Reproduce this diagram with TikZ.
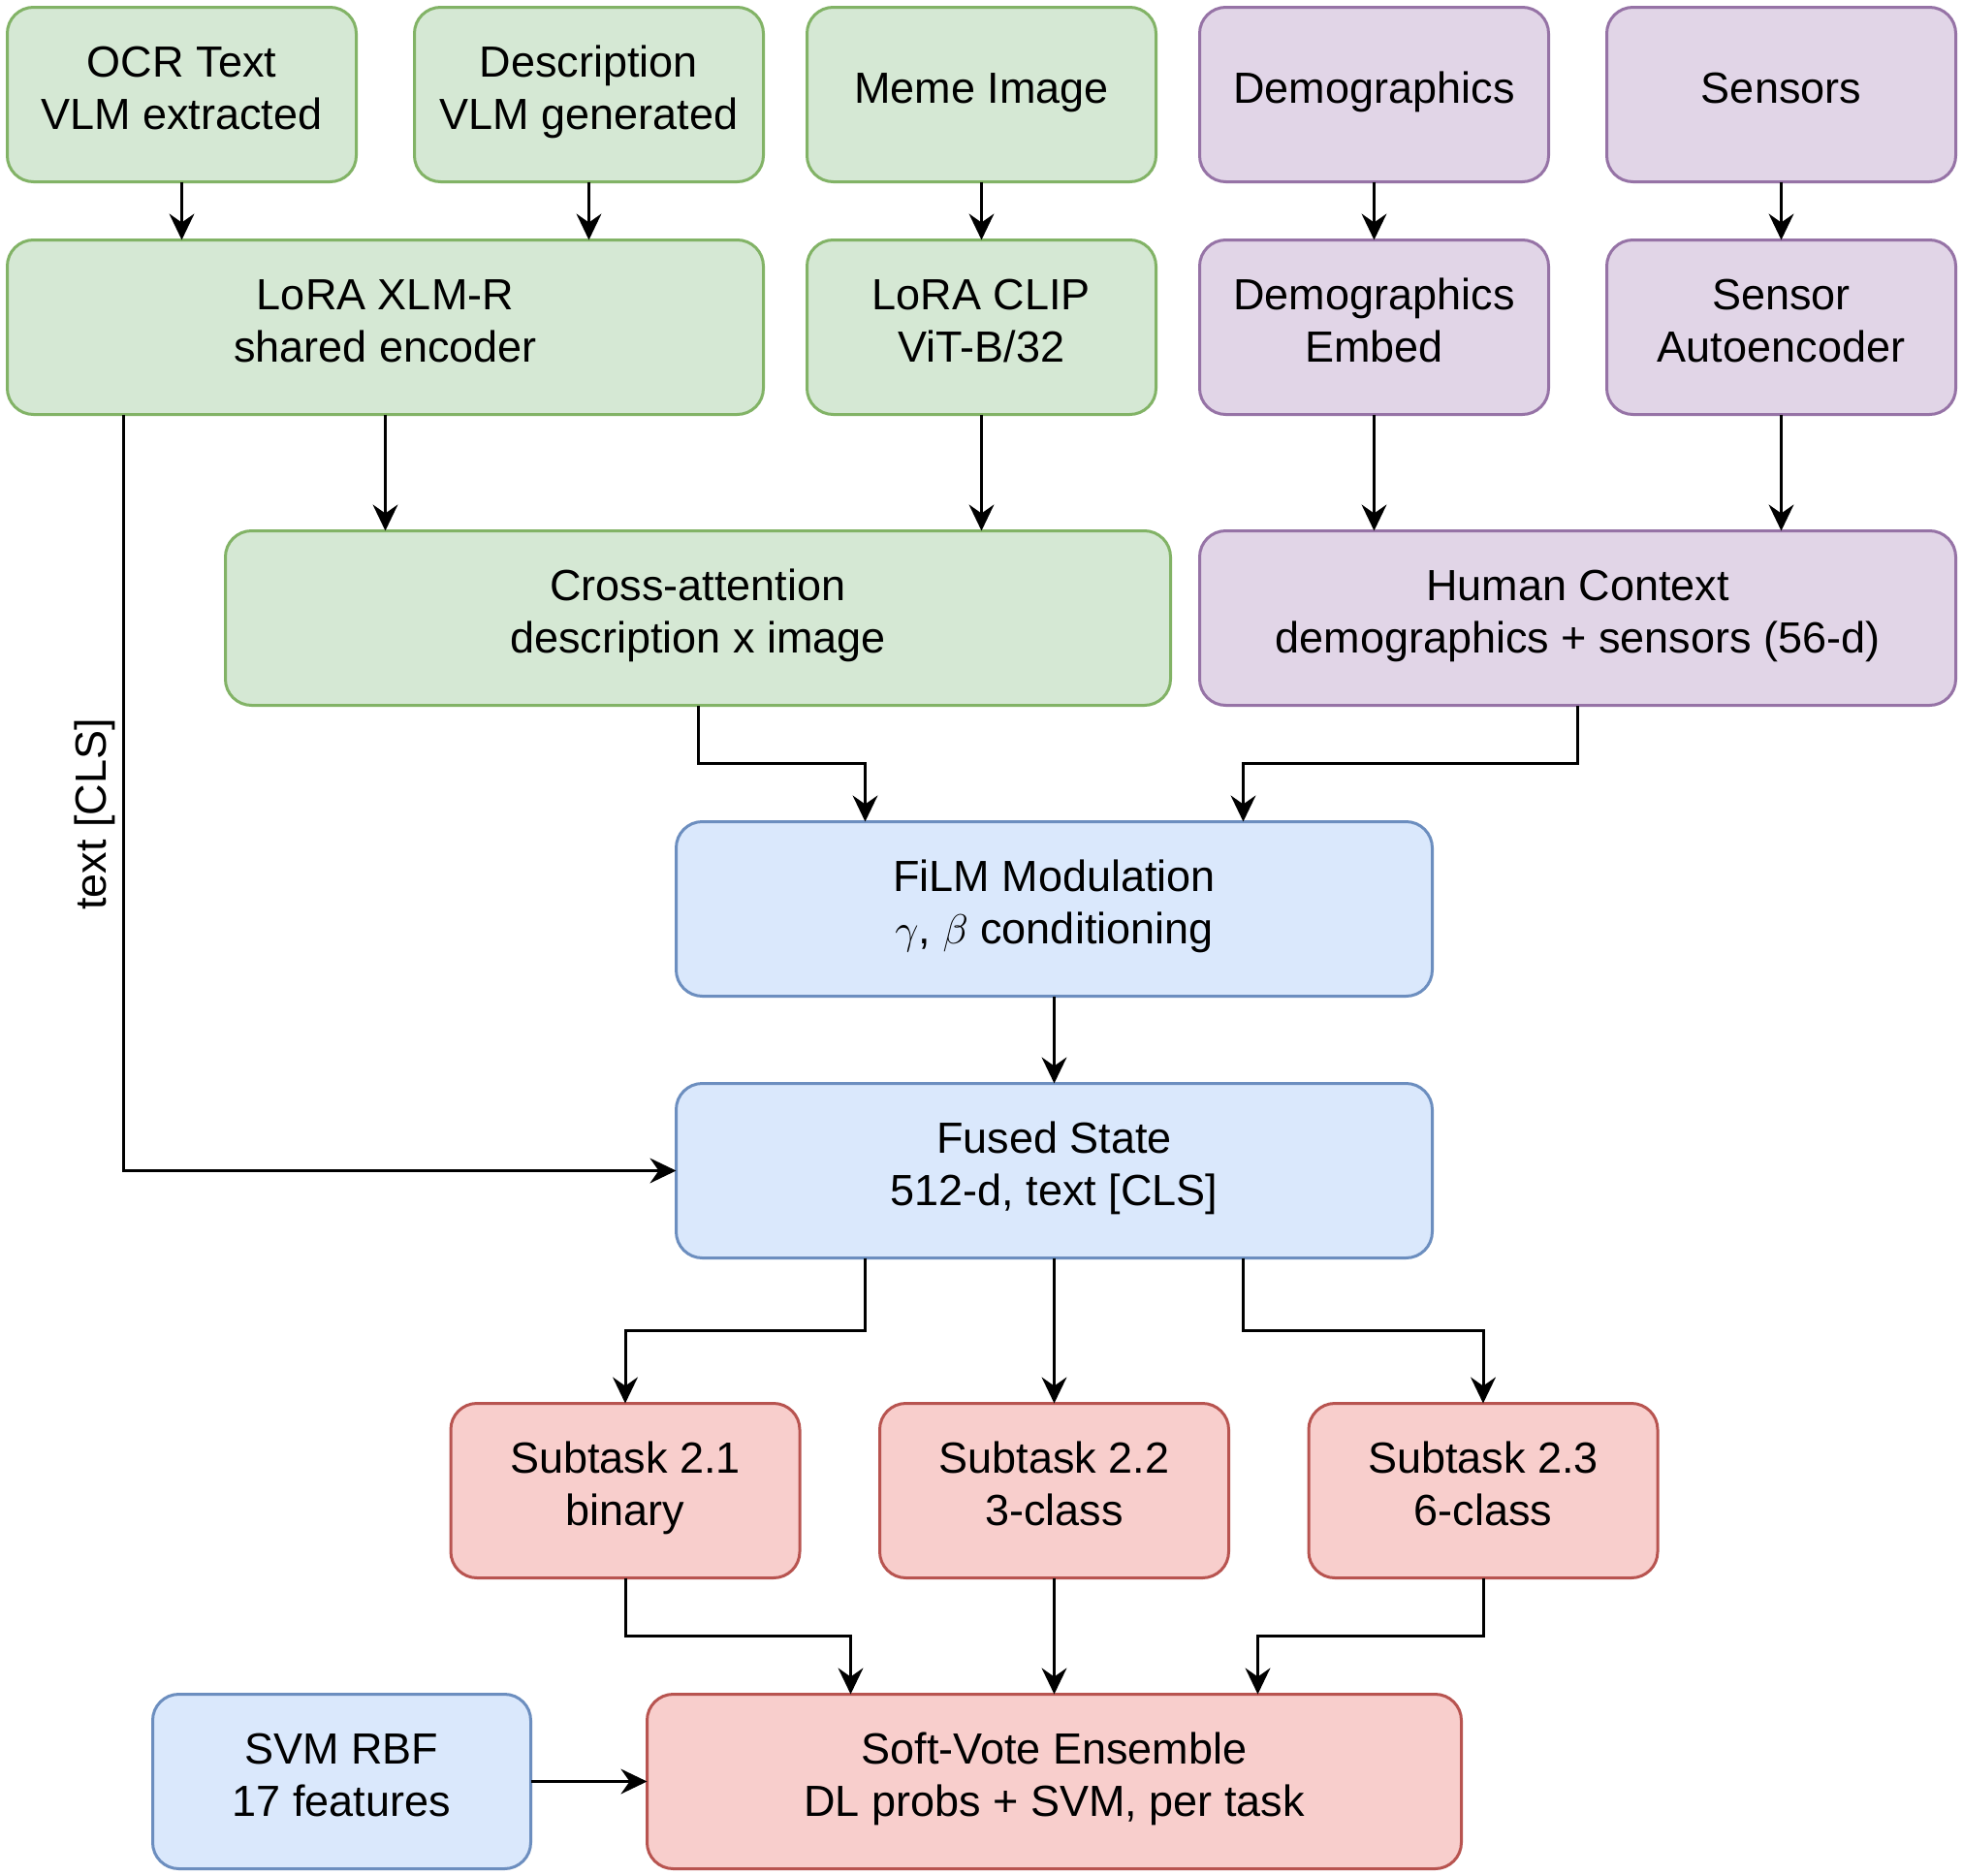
\documentclass[tikz,border=0pt]{standalone}
\usepackage{fontspec}
\setmainfont{Liberation Sans}
\usetikzlibrary{arrows.meta}
\newcommand{\ls}{\rule[-6pt]{0pt}{18pt}}
\definecolor{gfill}{HTML}{D5E8D4}\definecolor{gline}{HTML}{82B366}
\definecolor{pfill}{HTML}{E1D5E7}\definecolor{pline}{HTML}{9673A6}
\definecolor{bfill}{HTML}{DAE8FC}\definecolor{bline}{HTML}{6C8EBF}
\definecolor{rfill}{HTML}{F8CECC}\definecolor{rline}{HTML}{B85450}
\begin{document}
\begin{tikzpicture}[x=1pt,y=-1pt,
  box/.style={draw, rounded corners=9pt, line width=1pt, minimum height=60pt,
    minimum width=120pt, inner sep=0pt, outer sep=0pt, align=center,
    font=\fontsize{15}{18}\selectfont},
  gbox/.style={box, fill=gfill, draw=gline},
  pbox/.style={box, fill=pfill, draw=pline},
  bbox/.style={box, fill=bfill, draw=bline},
  rbox/.style={box, fill=rfill, draw=rline},
  conn/.style={-{Stealth[length=9pt,width=8.6pt,inset=3pt]}, line width=1pt}]
\fill[white] (0,0) rectangle (675,645);
\useasboundingbox (0,0) rectangle (675,645);

% row 1
\node[gbox] (ocr)  at (62.5,32.5)  {\ls OCR Text\\\ls VLM extracted};
\node[gbox] (desc) at (202.5,32.5) {\ls Description\\\ls VLM generated};
\node[gbox] (meme) at (337.5,32.5) {\ls Meme Image};
\node[pbox] (demo) at (472.5,32.5) {\ls Demographics};
\node[pbox] (sens) at (612.5,32.5) {\ls Sensors};
% row 2
\node[gbox, minimum width=260pt] (xlmr) at (132.5,112.5) {\ls LoRA XLM-R\\\ls shared encoder};
\node[gbox] (clip) at (337.5,112.5) {\ls LoRA CLIP\\\ls ViT-B/32};
\node[pbox] (demb) at (472.5,112.5) {\ls Demographics\\\ls Embed};
\node[pbox] (sae)  at (612.5,112.5) {\ls Sensor\\\ls Autoencoder};
% row 3
\node[gbox, minimum width=325pt] (cross) at (240,212.5) {\ls Cross-attention\\\ls description x image};
\node[pbox, minimum width=260pt] (human) at (542.5,212.5) {\ls Human Context\\\ls demographics + sensors (56-d)};
% row 4, 5
\node[bbox, minimum width=260pt] (film)  at (362.5,312.5) {\ls FiLM Modulation\\\ls $\gamma$, $\beta$ conditioning};
\node[bbox, minimum width=260pt] (fused) at (362.5,402.5) {\ls Fused State\\\ls 512-d, text [CLS]};
% row 6
\node[rbox] (st1) at (215,512.5)   {\ls Subtask 2.1\\\ls binary};
\node[rbox] (st2) at (362.5,512.5) {\ls Subtask 2.2\\\ls 3-class};
\node[rbox] (st3) at (510,512.5)   {\ls Subtask 2.3\\\ls 6-class};
% row 7
\node[bbox, minimum width=130pt] (svm)  at (117.5,612.5) {\ls SVM RBF\\\ls 17 features};
\node[rbox, minimum width=280pt] (soft) at (362.5,612.5) {\ls Soft-Vote Ensemble\\\ls DL probs + SVM, per task};

% connectors
\draw[conn] (ocr.south) -- (ocr.south |- xlmr.north);
\draw[conn] (desc.south) -- (desc.south |- xlmr.north);
\draw[conn] (meme) -- (clip);
\draw[conn] (demo) -- (demb);
\draw[conn] (sens) -- (sae);
\draw[conn] (xlmr.south) -- (xlmr.south |- cross.north);
\draw[conn] (clip.south) -- (clip.south |- cross.north);
\draw[conn] (demb.south) -- (demb.south |- human.north);
\draw[conn] (sae.south) -- (sae.south |- human.north);
\draw[conn] (cross.south) -- ++(0,20) -| ([xshift=-65pt]film.north);
\draw[conn] (human.south) -- ++(0,20) -| ([xshift=65pt]film.north);
\draw[conn] (film) -- (fused);
\draw[conn] ([xshift=-90pt]xlmr.south) |- (fused.west);
\node[rotate=90, font=\fontsize{15}{18}\selectfont, inner sep=0pt] (clslbl) at (32.5,280) {text [CLS]};
\draw[conn] ([xshift=-65pt]fused.south) -- ++(0,25) -| (st1.north);
\draw[conn] (fused) -- (st2);
\draw[conn] ([xshift=65pt]fused.south) -- ++(0,25) -| (st3.north);
\draw[conn] (st1.south) -- ++(0,20) -| ([xshift=-70pt]soft.north);
\draw[conn] (st2) -- (soft);
\draw[conn] (st3.south) -- ++(0,20) -| ([xshift=70pt]soft.north);
\draw[conn] (svm) -- (soft);
\end{tikzpicture}
\end{document}
